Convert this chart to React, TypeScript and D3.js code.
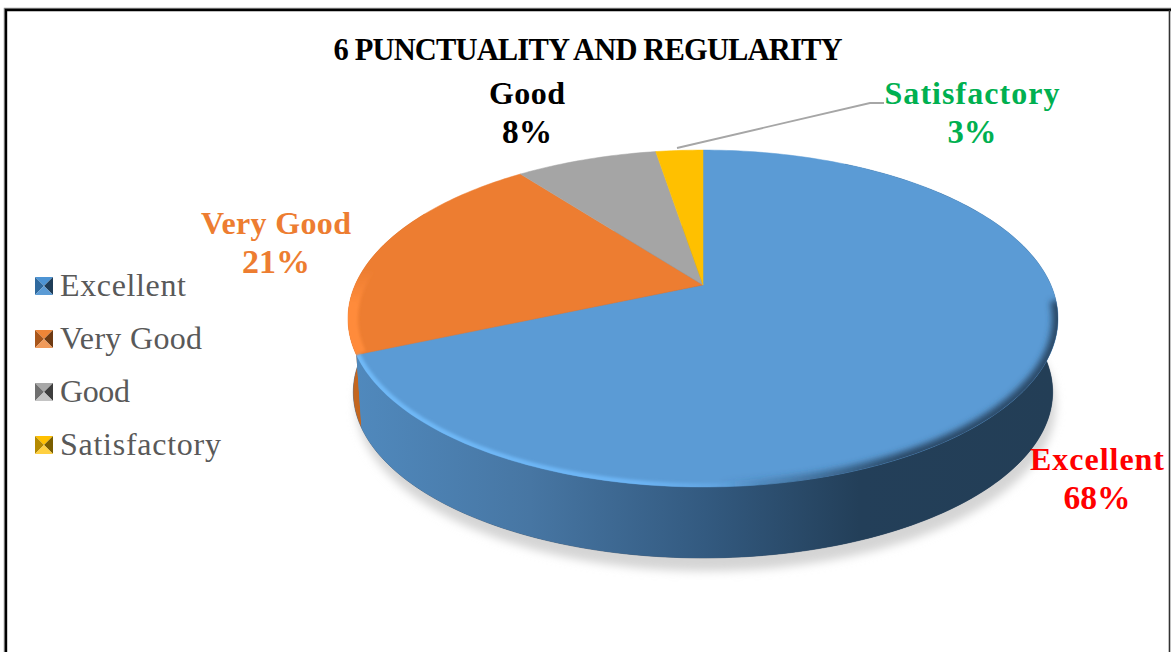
import React from "react";
import * as d3 from "d3";

const categories = ["Excellent", "Very Good", "Good", "Satisfactory"];
const values = [68.5, 21.1, 7.8, 2.6];
const percentLabels = ["68%", "21%", "8%", "3%"];
const sliceColors = ["#5b9bd5", "#ed7d31", "#a5a5a5", "#ffc000"];
const sideColors = ["#4a7fb0", "#c4661f", "#888888", "#d09c00"];
const labelColors = ["#ff0000", "#ed7d31", "#000000", "#00b050"];
const markerShades = [
  ["#4d94d4", "#2f6a9f", "#1f3d58", "#5b9bd5"],
  ["#ef8537", "#a9561a", "#6e3a12", "#f09a5a"],
  ["#a8a8a8", "#6f6f6f", "#3e3e3e", "#c4c4c4"],
  ["#ffc000", "#b58a00", "#7a5e00", "#ffd040"],
];

const W = 1171, H = 652;
const cx = 703;
const TOP_Y = 285, K = 0.199, A = 347.9, B = 161.8;
const BOT_Y = 359, BOT_S = 0.985;

type P = [number, number];
const proj = (a: number, y0: number, s: number): P => {
  const w = 1 + K * Math.cos(a);
  return [cx + (s * A * Math.sin(a)) / w, y0 - (s * B * Math.cos(a)) / w];
};
const topP = (a: number) => proj(a, TOP_Y, 1);
const botP = (a: number) => proj(a, BOT_Y, BOT_S);
const sweep = (a0: number, a1: number) => {
  const n = Math.max(2, Math.ceil(Math.abs(a1 - a0) / 0.02));
  return d3.range(n + 1).map((i) => a0 + ((a1 - a0) * i) / n);
};
const line = d3.line<P>();

const arcs = d3.pie<number>().sort(null)(values);
const TAU = Math.PI * 2;

const facePath = (a0: number, a1: number) =>
  line([[cx, TOP_Y], ...sweep(a0, a1).map(topP)])! + "Z";
const bandPath = (a0: number, a1: number) =>
  line([...sweep(a0, a1).map(topP), ...sweep(a1, a0).map(botP)])! + "Z";

const fullTop = line(sweep(0, TAU).map(topP))! + "Z";
const fullBot = line(sweep(0, TAU).map(botP))! + "Z";

const SERIF = "'Liberation Serif', 'DejaVu Serif', serif";

const labelPos: [number, number, number, number][] = [
  [1097, 470, 134, 67],
  [276, 234, 150, 68],
  [527, 104, 76, 50],
  [972, 104, 175, 49],
];
const legendLengths = [126, 142, 70, 161];
const legendY = d3.scalePoint<string>().domain(categories).range([286, 445]);

export default function App() {
  const blue = arcs[0];
  const orange = arcs[1];
  return (
    <svg
      width={W}
      height={H}
      viewBox={`0 0 ${W} ${H}`}
      style={{ position: "absolute", left: 0, top: 0, display: "block", background: "#fff" }}
    >
      <defs>
        <linearGradient id="blueSide" gradientUnits="userSpaceOnUse" x1={355} x2={1055} y1={0} y2={0}>
          <stop offset="0" stopColor="#5089bd" />
          <stop offset="0.25" stopColor="#4776a3" />
          <stop offset="0.5" stopColor="#335a80" />
          <stop offset="0.72" stopColor="#233f59" />
          <stop offset="1" stopColor="#233e56" />
        </linearGradient>
        <linearGradient id="hiGrad" gradientUnits="userSpaceOnUse" x1={355} x2={760} y1={0} y2={0}>
          <stop offset="0" stopColor="#6fb9f7" />
          <stop offset="0.7" stopColor="#6cb4f4" />
          <stop offset="1" stopColor="#6cb4f4" stopOpacity={0} />
        </linearGradient>
        <linearGradient id="darkGrad" gradientUnits="userSpaceOnUse" x1={720} x2={900} y1={0} y2={0}>
          <stop offset="0" stopColor="#2a4a68" stopOpacity={0} />
          <stop offset="1" stopColor="#2a4a68" />
        </linearGradient>
        <linearGradient id="orangeGrad" gradientUnits="userSpaceOnUse" x1={0} x2={0} y1={355} y2={270}>
          <stop offset="0" stopColor="#ff8b3a" />
          <stop offset="0.6" stopColor="#ff8b3a" />
          <stop offset="1" stopColor="#ff8b3a" stopOpacity={0} />
        </linearGradient>
        <filter id="shadow" x="-10%" y="-10%" width="120%" height="120%">
          <feGaussianBlur stdDeviation={5} />
        </filter>
        <filter id="soft" x="-10%" y="-10%" width="120%" height="120%">
          <feGaussianBlur stdDeviation={1.5} />
        </filter>
        <filter id="softDark" x="-10%" y="-10%" width="120%" height="120%">
          <feGaussianBlur stdDeviation={3} />
        </filter>
        <clipPath id="topClip">
          <path d={fullTop} />
        </clipPath>
      </defs>

      {/* chart frame */}
      <path d="M4.5,652 V8.5 H1171" fill="none" stroke="#8c8c8c" strokeWidth={1.5} />
      <path d="M6,652 V10 H1171" fill="none" stroke="#000" strokeWidth={2.4} />
      <path d="M1169.5,10 V652" fill="none" stroke="#333" strokeWidth={1.6} />

      <text x={588} y={60} textAnchor="middle" fontFamily={SERIF} fontWeight={700} fontSize={30.5}
        textLength={509} lengthAdjust="spacing" fill="#000">
        6 PUNCTUALITY AND REGULARITY
      </text>

      {/* drop shadow */}
      <path d={fullBot} transform="translate(3,13)" fill="#d4d4d4" filter="url(#shadow)" />

      {/* sides */}
      <path d={fullBot} fill="url(#blueSide)" stroke="#1f3a55" strokeOpacity={0.5} strokeWidth={1} />
      <path d={bandPath(orange.startAngle, TAU * 0.83)} fill={sideColors[1]} />
      <path d={bandPath(0.5, blue.endAngle)} fill="url(#blueSide)" />

      {/* top faces */}
      {arcs.map((a, i) => (
        <path key={i} d={facePath(a.startAngle, a.endAngle)} fill={sliceColors[i]}
          stroke={sliceColors[i]} strokeWidth={0.5} />
      ))}

      {/* bevel */}
      <g clipPath="url(#topClip)">
        <path d={line(sweep(Math.PI * 0.75, blue.endAngle).map(topP))!} fill="none"
          stroke="url(#hiGrad)" strokeWidth={8} filter="url(#soft)" />
        <path d={line(sweep(blue.endAngle, TAU * 0.8).map(topP))!} fill="none"
          stroke="url(#orangeGrad)" strokeWidth={20} filter="url(#soft)" />
        <path d={line(sweep(Math.PI * 0.53, Math.PI).map(topP))!} fill="none"
          stroke="url(#darkGrad)" strokeWidth={12} filter="url(#softDark)" />
      </g>

      {/* leader line */}
      <path d="M677,148 L870,103 L884,103" fill="none" stroke="#a6a6a6" strokeWidth={1.8} />

      {/* data labels */}
      {categories.map((c, i) => {
        const [x, y, len, pLen] = labelPos[i];
        return (
          <g key={c} fontFamily={SERIF} fontWeight={700} fontSize={32} fill={labelColors[i]} textAnchor="middle">
            <text x={x} y={y} textLength={len} lengthAdjust="spacing">{c}</text>
            <text x={x} y={y + 39} fontSize={34} textLength={pLen} lengthAdjust="spacingAndGlyphs">{percentLabels[i]}</text>
          </g>
        );
      })}

      {/* legend */}
      {categories.map((c, i) => {
        const y = legendY(c)!;
        const x0 = 35, x1 = 53, y0 = y - 9, y1 = y + 9, mx = 44;
        const s = markerShades[i];
        const tri = (pts: P[]) => line(pts)! + "Z";
        return (
          <g key={c}>
            <path d={tri([[x0, y0], [x1, y0], [mx, y]])} fill={s[0]} />
            <path d={tri([[x0, y0], [x0, y1], [mx, y]])} fill={s[1]} />
            <path d={tri([[x1, y0], [x1, y1], [mx, y]])} fill={s[2]} />
            <path d={tri([[x0, y1], [x1, y1], [mx, y]])} fill={s[3]} />
            <text x={60} y={y + 10} fontFamily={SERIF} fontSize={32} fill="#595959"
              textLength={legendLengths[i]} lengthAdjust="spacing">{c}</text>
          </g>
        );
      })}
    </svg>
  );
}
